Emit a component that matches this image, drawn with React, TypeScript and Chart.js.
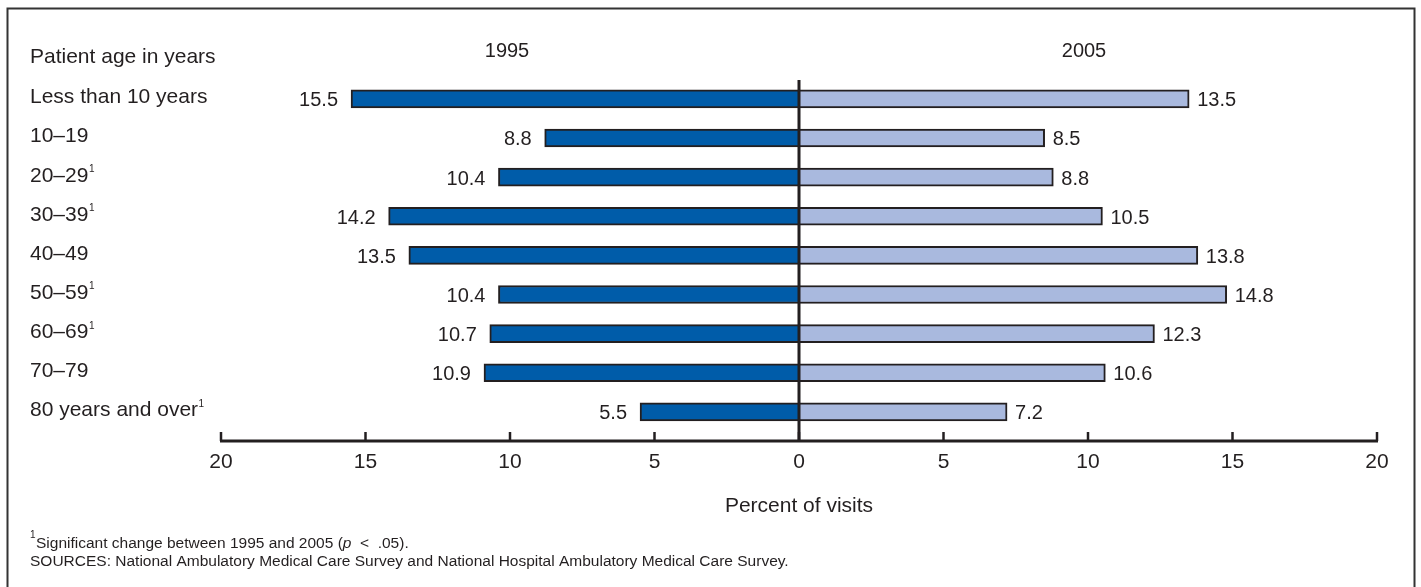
import React, { useEffect, useRef } from "react";
import { Chart, registerables } from "chart.js";

Chart.register(...registerables);

// ---- data ----
const categories = [
  "Less than 10 years",
  "10–19",
  "20–29",
  "30–39",
  "40–49",
  "50–59",
  "60–69",
  "70–79",
  "80 years and over",
];
const significant = [false, false, true, true, false, true, true, false, true];
const values1995 = [15.5, 8.8, 10.4, 14.2, 13.5, 10.4, 10.7, 10.9, 5.5];
const values2005 = [13.5, 8.5, 8.8, 10.5, 13.8, 14.8, 12.3, 10.6, 7.2];
const seriesLabels = ["1995", "2005"];
const xMin = -20;
const xMax = 20;
const xStep = 5;
const rowTitle = "Patient age in years";
const axisTitle = "Percent of visits";
const footnotePre = "Significant change between 1995 and 2005 (";
const footnoteItalic = "p";
const footnotePost = "  <  .05).";
const sourcesText =
  "SOURCES: National Ambulatory Medical Care Survey and National Hospital Ambulatory Medical Care Survey.";

const FONT = "'Liberation Sans', Arial, Helvetica, sans-serif";
const TEXT = "#231f20";
const DARK = "#005ca9";
const LIGHT = "#a9b9de";

const overlay = {
  id: "overlay",
  afterDatasetsDraw(chart: any) {
    const ctx = chart.ctx as CanvasRenderingContext2D;
    const xs = chart.scales.x;
    const ys = chart.scales.y;
    ctx.save();
    ctx.fillStyle = TEXT;
    ctx.strokeStyle = TEXT;

    // frame
    ctx.lineWidth = 2;
    ctx.strokeStyle = "#333";
    ctx.strokeRect(7.5, 8.5, 1407, 600);
    ctx.strokeStyle = TEXT;

    // row title
    ctx.font = `21px ${FONT}`;
    ctx.textAlign = "left";
    ctx.textBaseline = "alphabetic";
    ctx.fillText(rowTitle, 30, 63);

    // series headers
    ctx.font = `20px ${FONT}`;
    ctx.textAlign = "center";
    ctx.fillText(seriesLabels[0], xs.getPixelForValue(-10) - 3, 57);
    ctx.fillText(seriesLabels[1], xs.getPixelForValue(10) - 4, 57);

    // category labels
    categories.forEach((c, i) => {
      const yc = ys.getPixelForValue(i);
      ctx.font = `21px ${FONT}`;
      ctx.textAlign = "left";
      ctx.fillText(c, 30, yc + 4.5);
      if (significant[i]) {
        const w = ctx.measureText(c).width;
        ctx.font = `10px ${FONT}`;
        ctx.fillText("1", 30 + w + 0.5, yc - 5);
      }
    });

    // value labels
    ctx.font = `20px ${FONT}`;
    const m0 = chart.getDatasetMeta(0);
    const m1 = chart.getDatasetMeta(1);
    m0.data.forEach((bar: any, i: number) => {
      ctx.textAlign = "right";
      ctx.fillText(values1995[i].toFixed(1), bar.x - 13, bar.y + 7.5);
    });
    m1.data.forEach((bar: any, i: number) => {
      ctx.textAlign = "left";
      ctx.fillText(values2005[i].toFixed(1), bar.x + 8, bar.y + 7.5);
    });

    // zero line
    const x0 = xs.getPixelForValue(0);
    const axisY = 441;
    ctx.lineWidth = 3;
    ctx.beginPath();
    ctx.moveTo(x0, 80);
    ctx.lineTo(x0, axisY);
    ctx.stroke();

    // axis line and upward ticks
    ctx.beginPath();
    ctx.moveTo(xs.getPixelForValue(xMin) - 1, axisY);
    ctx.lineTo(xs.getPixelForValue(xMax) + 1, axisY);
    ctx.stroke();
    ctx.lineWidth = 2.5;
    for (let v = xMin; v <= xMax; v += xStep) {
      const px = xs.getPixelForValue(v);
      ctx.beginPath();
      ctx.moveTo(px, axisY);
      ctx.lineTo(px, axisY - 9);
      ctx.stroke();
    }

    // axis title
    ctx.font = `21px ${FONT}`;
    ctx.textAlign = "center";
    ctx.fillText(axisTitle, x0, 512);

    // footnotes
    ctx.textAlign = "left";
    ctx.font = `10px ${FONT}`;
    ctx.fillText("1", 30, 538);
    let fx = 36;
    ctx.font = `15.5px ${FONT}`;
    ctx.fillText(footnotePre, fx, 548);
    fx += ctx.measureText(footnotePre).width;
    ctx.font = `italic 15.5px ${FONT}`;
    ctx.fillText(footnoteItalic, fx, 548);
    fx += ctx.measureText(footnoteItalic).width;
    ctx.font = `15.5px ${FONT}`;
    ctx.fillText(footnotePost, fx, 548);
    ctx.fillText(sourcesText, 30, 566);

    ctx.restore();
  },
};

export default function App() {
  const ref = useRef<HTMLCanvasElement | null>(null);
  useEffect(() => {
    if (!ref.current) return;
    const chart = new Chart(ref.current, {
      type: "bar",
      data: {
        labels: categories,
        datasets: [
          {
            label: seriesLabels[0],
            data: values1995.map((v) => -v),
            backgroundColor: DARK,
            borderColor: TEXT,
            borderWidth: 2,
            borderSkipped: "start",
            barThickness: 18,
          },
          {
            label: seriesLabels[1],
            data: values2005,
            backgroundColor: LIGHT,
            borderColor: TEXT,
            borderWidth: 2,
            borderSkipped: "start",
            barThickness: 18,
          },
        ],
      },
      options: {
        indexAxis: "y",
        animation: false,
        responsive: false,
        maintainAspectRatio: false,
        layout: { padding: { left: 221, right: 44, top: 79.3, bottom: 94.4 } },
        plugins: { legend: { display: false }, tooltip: { enabled: false } },
        scales: {
          x: {
            type: "linear",
            min: xMin,
            max: xMax,
            stacked: true,
            grid: { display: false, drawTicks: false },
            border: { display: false },
            ticks: {
              stepSize: xStep,
              padding: 18,
              color: TEXT,
              font: { family: FONT, size: 21 },
              maxRotation: 0,
              callback: (v: any) => String(Math.abs(Number(v))),
            },
          },
          y: {
            display: false,
            stacked: true,
          },
        },
      },
      plugins: [overlay],
    });
    return () => chart.destroy();
  }, []);
  return (
    <div style={{ position: "fixed", left: 0, top: 0, width: 1421, height: 587, background: "#fff" }}>
      <canvas ref={ref} width={1421} height={587} style={{ display: "block" }} />
    </div>
  );
}
